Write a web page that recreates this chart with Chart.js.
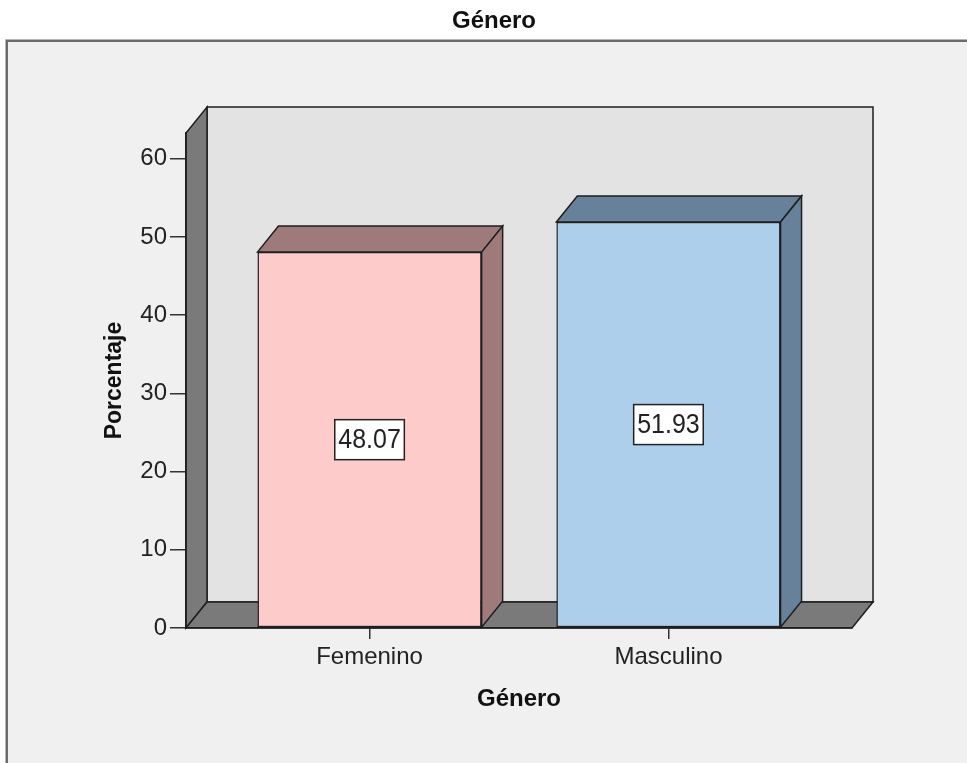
<!DOCTYPE html>
<html>
<head>
<meta charset="utf-8">
<title>Género</title>
<script src="https://cdn.jsdelivr.net/npm/chart.js@4"></script>
<style>
  html, body { margin: 0; padding: 0; background: #fff; }
  canvas { display: block; }
</style>
</head>
<body>
<canvas id="genero-chart" width="967" height="763"></canvas>
<script>
const categories = ['Femenino', 'Masculino']
const percentages = [48.07, 51.93]
const yTicks = [0, 10, 20, 30, 40, 50, 60]

const frontColors = ['#fecbcb', '#aecfec']
const sideColors = ['#9e7a7a', '#68819a']

// depth of the fake 3d box
const dx = 21
const dy = -26

Chart.defaults.font.family = '"Liberation Sans", Arial, sans-serif'
Chart.defaults.color = '#222'

function poly(ctx, pts, fill) {
  ctx.beginPath()
  ctx.moveTo(pts[0][0], pts[0][1])
  for (let i = 1; i < pts.length; i++) ctx.lineTo(pts[i][0], pts[i][1])
  ctx.closePath()
  ctx.fillStyle = fill
  ctx.fill()
  ctx.lineWidth = 1.5
  ctx.strokeStyle = '#1e1e1e'
  ctx.stroke()
}

const box3d = {
  id: 'box3d',
  beforeDraw(chart) {
    const {ctx, chartArea: a} = chart
    ctx.save()
    ctx.fillStyle = '#fff'
    ctx.fillRect(0, 0, chart.width, chart.height)

    // grey frame
    ctx.fillStyle = '#f0f0f0'
    ctx.fillRect(8, 41, chart.width - 8, chart.height - 41)
    ctx.strokeStyle = '#b4b4b4'
    ctx.lineWidth = 1
    ctx.beginPath()
    ctx.moveTo(5.5, chart.height); ctx.lineTo(5.5, 39.5); ctx.lineTo(chart.width, 39.5)
    ctx.stroke()
    ctx.strokeStyle = '#6c6c6c'
    ctx.lineWidth = 2
    ctx.beginPath()
    ctx.moveTo(7, chart.height); ctx.lineTo(7, 41); ctx.lineTo(chart.width, 41)
    ctx.stroke()

    // back wall, left wall, floor
    poly(ctx, [[a.left + dx, a.top + dy], [a.right + dx, a.top + dy], [a.right + dx, a.bottom + dy], [a.left + dx, a.bottom + dy]], '#e3e3e3')
    poly(ctx, [[a.left, a.bottom], [a.left, a.top], [a.left + dx, a.top + dy], [a.left + dx, a.bottom + dy]], '#7a7a7a')
    poly(ctx, [[a.left, a.bottom], [a.left + dx, a.bottom + dy], [a.right + dx, a.bottom + dy], [a.right, a.bottom]], '#7a7a7a')

    ctx.fillStyle = '#111'
    ctx.font = 'bold 24px "Liberation Sans", Arial, sans-serif'
    ctx.textAlign = 'center'
    ctx.textBaseline = 'middle'
    ctx.fillText('Género', 494, 21)
    ctx.restore()
  },
  afterDatasetsDraw(chart) {
    const {ctx} = chart
    ctx.save()
    chart.getDatasetMeta(0).data.forEach((bar, i) => {
      const {x, y, base, width} = bar.getProps(['x', 'y', 'base', 'width'], true)
      const l = x - width / 2
      const r = x + width / 2
      poly(ctx, [[l, y], [l + dx, y + dy], [r + dx, y + dy], [r, y]], sideColors[i])
      poly(ctx, [[r, y], [r + dx, y + dy], [r + dx, base + dy], [r, base]], sideColors[i])

      // value label
      const txt = percentages[i].toFixed(2)
      ctx.font = '25px "Liberation Sans", Arial, sans-serif'
      const w = ctx.measureText(txt).width + 7
      const h = 40
      const cy = (y + base) / 2
      ctx.fillStyle = '#fff'
      ctx.fillRect(x - w / 2, cy - h / 2, w, h)
      ctx.lineWidth = 1.5
      ctx.strokeStyle = '#222'
      ctx.strokeRect(x - w / 2, cy - h / 2, w, h)
      ctx.fillStyle = '#222'
      ctx.textAlign = 'center'
      ctx.textBaseline = 'middle'
      ctx.save()
      ctx.translate(x, cy + 1)
      ctx.scale(1, 1.12)
      ctx.fillText(txt, 0, 0)
      ctx.restore()
    })
    ctx.restore()
  }
}

const ctx = document.getElementById('genero-chart')

const generoChart = new Chart(ctx, {
  type: 'bar',
  data: {
    datasets: [{
      label: 'Porcentaje',
      data: percentages.map((v, i) => ({x: i, y: v})),
      backgroundColor: frontColors,
      borderColor: '#1e1e1e',
      borderWidth: 1.5,
      borderSkipped: false,
      categoryPercentage: 1,
      barPercentage: 0.75
    }]
  },
  options: {
    responsive: false,
    animation: false,
    layout: {
      padding: {left: 0, right: 115, top: 133, bottom: 0}
    },
    plugins: {
      legend: {display: false},
      tooltip: {enabled: false}
    },
    scales: {
      x: {
        type: 'linear',
        min: -0.614,
        max: 1.614,
        offset: false,
        afterBuildTicks: (scale) => {
          scale.ticks = categories.map((c, i) => ({value: i}))
        },
        afterFit: (scale) => { scale.height = 135 },
        grid: {offset: false, drawOnChartArea: false, tickLength: 11, tickColor: '#333', lineWidth: 1.5},
        border: {display: true, color: '#1e1e1e', width: 1.5},
        ticks: {
          padding: 4,
          color: '#222',
          font: {size: 24},
          callback: (value) => categories[value]
        },
        title: {
          display: true,
          text: 'Género',
          color: '#111',
          font: {size: 24, weight: 'bold'},
          padding: {top: 0, bottom: 49}
        }
      },
      y: {
        min: 0,
        max: 63.3,
        afterBuildTicks: (scale) => {
          scale.ticks = yTicks.map(v => ({value: v}))
        },
        afterFit: (scale) => { scale.width = 186 },
        grid: {drawOnChartArea: false, tickLength: 16, tickColor: '#333', lineWidth: 1.5},
        border: {display: true, color: '#1e1e1e', width: 1.5},
        ticks: {
          padding: 3,
          color: '#222',
          font: {size: 24}
        },
        title: {
          display: true,
          text: 'Porcentaje',
          color: '#111',
          font: {size: 23, weight: 'bold'},
          padding: {top: 101, bottom: 0}
        }
      }
    }
  },
  plugins: [box3d]
})
</script>
</body>
</html>
